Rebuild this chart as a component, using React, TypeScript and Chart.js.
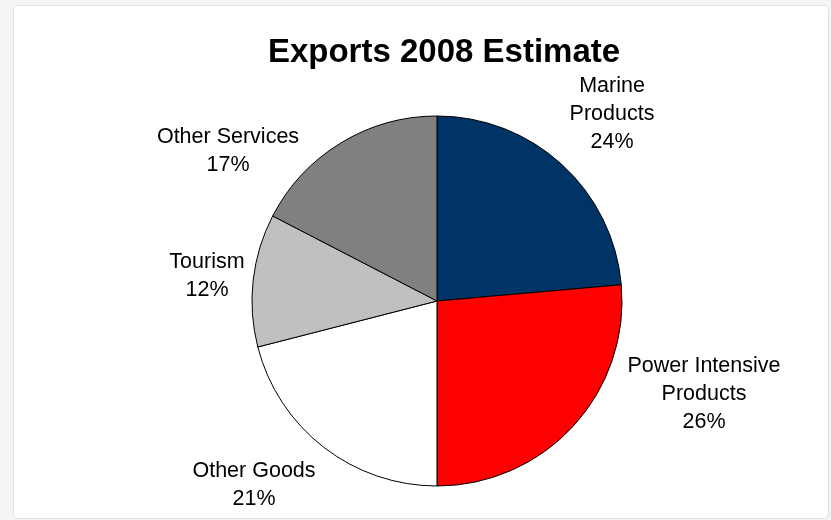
import React, { useEffect, useRef } from "react";
import { Chart, registerables } from "chart.js";

Chart.register(...registerables);

const TITLE = "Exports 2008 Estimate";
const categories = [
  "Marine Products",
  "Power Intensive Products",
  "Other Goods",
  "Tourism",
  "Other Services",
];
const labelLines = [
  ["Marine", "Products"],
  ["Power Intensive", "Products"],
  ["Other Goods"],
  ["Tourism"],
  ["Other Services"],
];
const shares = [23.6, 26.4, 21.0, 11.6, 17.4];
const sliceColors = ["#003366", "#ff0000", "#ffffff", "#c0c0c0", "#808080"];

// label anchor offsets (first-line baseline) relative to pie centre
const LABEL_OFFSETS: [number, number][] = [
  [175, -209],
  [267, 71],
  [-183, 176],
  [-230, -33],
  [-209, -158],
];

const labelPlugin = {
  id: "sliceLabels",
  afterDatasetsDraw(chart: any) {
    const ctx = chart.ctx as CanvasRenderingContext2D;
    const meta = chart.getDatasetMeta(0);
    const arc0 = meta.data[0];
    if (!arc0) return;
    const cx = arc0.x;
    const cy = arc0.y;
    const total = shares.reduce((a, b) => a + b, 0);
    ctx.save();
    ctx.fillStyle = "#000000";
    ctx.textAlign = "center";
    ctx.textBaseline = "alphabetic";
    ctx.font = "bold 33px 'Liberation Sans', Arial, sans-serif";
    ctx.fillText(TITLE, 444, 62);
    ctx.font = "21.5px 'Liberation Sans', Arial, sans-serif";
    LABEL_OFFSETS.forEach(([dx, dy], i) => {
      const lines = [...labelLines[i], Math.round((shares[i] / total) * 100) + "%"];
      lines.forEach((t, j) => ctx.fillText(t, cx + dx, cy + dy + j * 28));
    });
    ctx.restore();
  },
};

export default function App() {
  const ref = useRef<HTMLCanvasElement | null>(null);

  useEffect(() => {
    if (!ref.current) return;
    const chart = new Chart(ref.current, {
      type: "pie",
      data: {
        labels: categories,
        datasets: [
          {
            data: shares,
            backgroundColor: sliceColors,
            borderColor: "#000000",
            borderWidth: 1,
            radius: 185,
          } as any,
        ],
      },
      options: {
        animation: false,
        responsive: false,
        events: [],
        layout: { padding: { left: 43, right: 0, top: 82, bottom: 0 } },
        plugins: {
          legend: { display: false },
          tooltip: { enabled: false },
          title: { display: false },
        },
      },
      plugins: [labelPlugin],
    });
    return () => chart.destroy();
  }, []);

  return (
    <div
      style={{
        position: "fixed",
        left: 0,
        top: 0,
        width: 831,
        height: 520,
        background: "#f5f5f5",
        overflow: "hidden",
      }}
    >
      <div
        style={{
          position: "absolute",
          left: 13,
          top: 5,
          width: 814,
          height: 512,
          background: "#ffffff",
          border: "1px solid #e2e2e2",
          borderRadius: 5,
        }}
      />
      <canvas
        ref={ref}
        width={831}
        height={520}
        style={{ position: "absolute", left: 0, top: 0, width: 831, height: 520 }}
      />
    </div>
  );
}
